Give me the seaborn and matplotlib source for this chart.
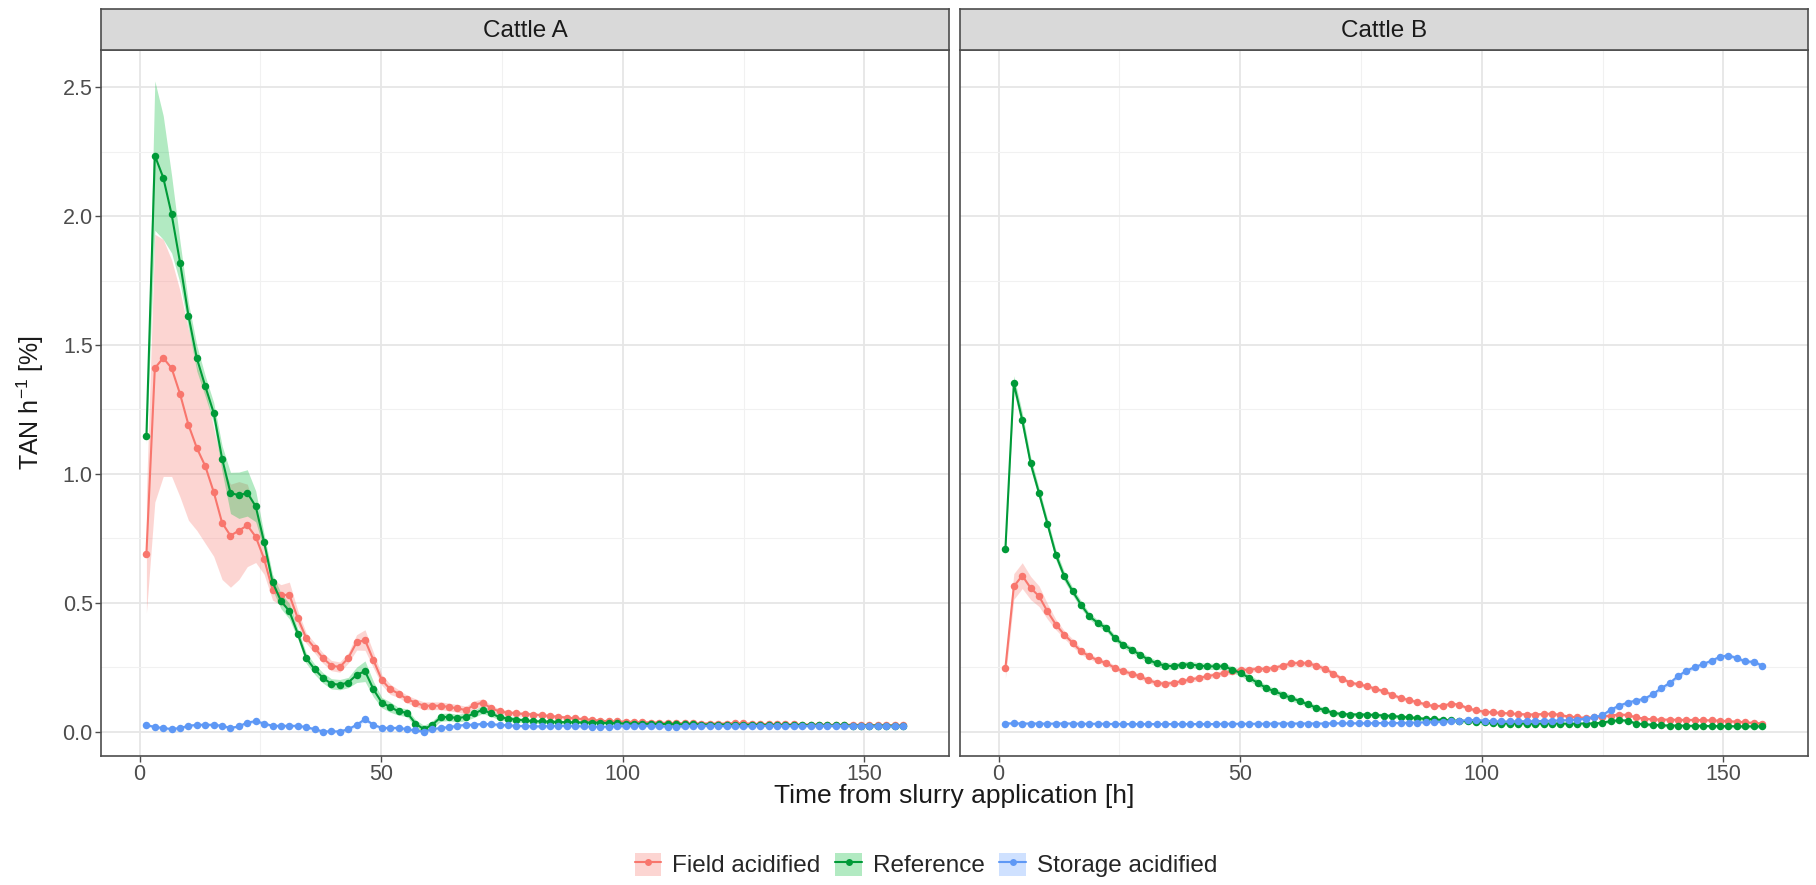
import numpy as np
import pandas as pd
import matplotlib
matplotlib.use("Agg")
import matplotlib.pyplot as plt
import seaborn as sns
from matplotlib.lines import Line2D
from matplotlib.patches import Patch
from matplotlib.ticker import FixedLocator, FixedFormatter

sns.set_theme(style="white")
plt.rcParams["font.family"] = ["Liberation Sans", "DejaVu Sans"]
plt.rcParams["mathtext.fontset"] = "custom"
plt.rcParams["mathtext.rm"] = "Liberation Sans"
plt.rcParams["mathtext.it"] = "Liberation Sans:italic"

# ---------------- data ----------------
panels = ["Cattle A", "Cattle B"]
treatments = ["Field acidified", "Reference", "Storage acidified"]
x_ticks = [0, 50, 100, 150]
x_tick_labels = ["0", "50", "100", "150"]
y_ticks = [0.0, 0.5, 1.0, 1.5, 2.0, 2.5]
y_tick_labels = ["0.0", "0.5", "1.0", "1.5", "2.0", "2.5"]

time_h = [1.4, 3.14, 4.88, 6.62, 8.36, 10.1, 11.84, 13.58, 15.32, 17.06,
          18.8, 20.54, 22.28, 24.02, 25.76, 27.5, 29.24, 30.98, 32.72, 34.46,
          36.2, 37.94, 39.68, 41.42, 43.16, 44.9, 46.64, 48.38, 50.12, 51.86,
          53.6, 55.34, 57.08, 58.82, 60.56, 62.3, 64.04, 65.78, 67.52, 69.26,
          71.0, 72.74, 74.48, 76.22, 77.96, 79.7, 81.44, 83.18, 84.92, 86.66,
          88.4, 90.14, 91.88, 93.62, 95.36, 97.1, 98.84, 100.58, 102.32, 104.06,
          105.8, 107.54, 109.28, 111.02, 112.76, 114.5, 116.24, 117.98, 119.72, 121.46,
          123.2, 124.94, 126.68, 128.42, 130.16, 131.9, 133.64, 135.38, 137.12, 138.86,
          140.6, 142.34, 144.08, 145.82, 147.56, 149.3, 151.04, 152.78, 154.52, 156.26,
          158.0]

# Cattle A
a_field = [0.69, 1.41, 1.45, 1.41, 1.31, 1.19, 1.10, 1.03, 0.93, 0.81,
           0.76, 0.78, 0.80, 0.756, 0.67, 0.55, 0.53, 0.53, 0.44, 0.363,
           0.325, 0.285, 0.256, 0.25, 0.285, 0.346, 0.355, 0.277, 0.2, 0.164,
           0.147, 0.126, 0.112, 0.1, 0.1, 0.1, 0.095, 0.09, 0.083, 0.104,
           0.112, 0.09, 0.078, 0.073, 0.07, 0.068, 0.066, 0.063, 0.06, 0.057,
           0.054, 0.051, 0.048, 0.045, 0.042, 0.04, 0.039, 0.038, 0.037, 0.036,
           0.035, 0.034, 0.033, 0.033, 0.032, 0.032, 0.031, 0.031, 0.030, 0.031,
           0.033, 0.032, 0.030, 0.029, 0.029, 0.028, 0.028, 0.028, 0.027, 0.027,
           0.027, 0.026, 0.026, 0.026, 0.026, 0.025, 0.025, 0.025, 0.025, 0.024,
           0.024]
a_reference = [1.145, 2.235, 2.15, 2.007, 1.82, 1.614, 1.448, 1.34, 1.237, 1.059,
               0.926, 0.917, 0.926, 0.874, 0.735, 0.58, 0.507, 0.467, 0.38, 0.285,
               0.242, 0.208, 0.185, 0.182, 0.19, 0.22, 0.234, 0.164, 0.112, 0.095,
               0.078, 0.073, 0.031, 0.009, 0.026, 0.055, 0.057, 0.052, 0.057, 0.07,
               0.085, 0.07, 0.056, 0.05, 0.046, 0.043, 0.04, 0.039, 0.038, 0.037,
               0.036, 0.036, 0.035, 0.035, 0.034, 0.033, 0.032, 0.031, 0.031, 0.030,
               0.030, 0.029, 0.029, 0.028, 0.028, 0.028, 0.027, 0.027, 0.027, 0.027,
               0.026, 0.026, 0.026, 0.026, 0.025, 0.025, 0.025, 0.025, 0.025, 0.024,
               0.024, 0.024, 0.024, 0.024, 0.023, 0.023, 0.023, 0.023, 0.023, 0.022,
               0.022]
a_storage = [0.026, 0.017, 0.014, 0.009, 0.014, 0.022, 0.026, 0.026, 0.026, 0.022,
             0.014, 0.02, 0.035, 0.04, 0.031, 0.022, 0.022, 0.022, 0.022, 0.017,
             0.009, 0.0, 0.001, 0.0, 0.009, 0.026, 0.048, 0.026, 0.014, 0.014,
             0.014, 0.009, 0.004, 0.0, 0.009, 0.014, 0.017, 0.022, 0.026, 0.026,
             0.03, 0.028, 0.026, 0.024, 0.022, 0.021, 0.02, 0.02, 0.021, 0.022,
             0.022, 0.021, 0.02, 0.019, 0.018, 0.019, 0.02, 0.021, 0.022, 0.022,
             0.021, 0.02, 0.019, 0.019, 0.02, 0.021, 0.022, 0.022, 0.021, 0.021,
             0.02, 0.02, 0.021, 0.022, 0.022, 0.022, 0.021, 0.021, 0.021, 0.022,
             0.022, 0.022, 0.022, 0.021, 0.021, 0.021, 0.021, 0.02, 0.02, 0.02,
             0.02]

# Cattle B
b_field = [0.247, 0.563, 0.605, 0.557, 0.525, 0.466, 0.415, 0.376, 0.344, 0.311,
           0.292, 0.276, 0.266, 0.247, 0.234, 0.225, 0.214, 0.199, 0.189, 0.185,
           0.189, 0.195, 0.202, 0.208, 0.214, 0.221, 0.227, 0.234, 0.238, 0.24,
           0.243, 0.243, 0.247, 0.256, 0.264, 0.266, 0.264, 0.256, 0.243, 0.225,
           0.205, 0.19, 0.183, 0.176, 0.166, 0.156, 0.143, 0.13, 0.122, 0.114,
           0.105, 0.098, 0.1, 0.108, 0.104, 0.09, 0.082, 0.077, 0.074, 0.072,
           0.07, 0.068, 0.066, 0.066, 0.068, 0.069, 0.064, 0.058, 0.055, 0.053,
           0.055, 0.058, 0.062, 0.066, 0.064, 0.055, 0.05, 0.047, 0.046, 0.046,
           0.045, 0.045, 0.045, 0.044, 0.043, 0.042, 0.04, 0.038, 0.036, 0.033,
           0.031]
b_reference = [0.709, 1.351, 1.209, 1.041, 0.925, 0.806, 0.686, 0.602, 0.544, 0.492,
               0.447, 0.421, 0.402, 0.363, 0.337, 0.318, 0.298, 0.279, 0.264, 0.256,
               0.253, 0.26, 0.26, 0.256, 0.253, 0.253, 0.253, 0.24, 0.227, 0.208,
               0.189, 0.169, 0.156, 0.143, 0.13, 0.118, 0.105, 0.092, 0.083, 0.072,
               0.068, 0.066, 0.066, 0.065, 0.064, 0.062, 0.06, 0.057, 0.055, 0.052,
               0.049, 0.047, 0.045, 0.043, 0.041, 0.04, 0.038, 0.036, 0.033, 0.031,
               0.031, 0.031, 0.031, 0.030, 0.031, 0.031, 0.031, 0.030, 0.031, 0.031,
               0.031, 0.035, 0.04, 0.044, 0.042, 0.031, 0.028, 0.026, 0.024, 0.023,
               0.023, 0.022, 0.022, 0.022, 0.021, 0.021, 0.021, 0.020, 0.020, 0.020,
               0.020]
b_storage = [0.031, 0.032, 0.031, 0.031, 0.031, 0.030, 0.031, 0.031, 0.031, 0.030,
             0.030, 0.030, 0.030, 0.029, 0.029, 0.029, 0.029, 0.029, 0.029, 0.029,
             0.029, 0.029, 0.029, 0.029, 0.029, 0.029, 0.030, 0.030, 0.030, 0.030,
             0.030, 0.030, 0.031, 0.031, 0.031, 0.031, 0.031, 0.031, 0.031, 0.032,
             0.032, 0.032, 0.032, 0.032, 0.033, 0.033, 0.033, 0.033, 0.034, 0.035,
             0.036, 0.037, 0.038, 0.04, 0.042, 0.044, 0.045, 0.042, 0.04, 0.039,
             0.039, 0.04, 0.04, 0.04, 0.041, 0.042, 0.043, 0.044, 0.046, 0.05,
             0.055, 0.063, 0.085, 0.1, 0.112, 0.12, 0.127, 0.145, 0.168, 0.188,
             0.215, 0.236, 0.25, 0.262, 0.275, 0.29, 0.295, 0.285, 0.272, 0.27,
             0.256]

# ribbon half-widths (standard error band)
se_a_field = [0.23, 0.52, 0.46, 0.42, 0.40, 0.37, 0.32, 0.30, 0.25, 0.22,
              0.20, 0.19, 0.16, 0.10, 0.06, 0.04, 0.04, 0.05, 0.03, 0.02,
              0.02, 0.02, 0.02, 0.02, 0.02, 0.03, 0.04, 0.03, 0.02, 0.02,
              0.015, 0.015, 0.015, 0.015, 0.015, 0.015, 0.015, 0.015, 0.015, 0.015,
              0.015, 0.012, 0.01, 0.01, 0.01, 0.008, 0.008, 0.008, 0.007, 0.007,
              0.007, 0.006, 0.006, 0.006, 0.006, 0.006, 0.006, 0.006, 0.006, 0.006,
              0.006, 0.006, 0.006, 0.006, 0.006, 0.006, 0.006, 0.006, 0.006, 0.006,
              0.006, 0.006, 0.006, 0.006, 0.006, 0.006, 0.006, 0.006, 0.006, 0.006,
              0.006, 0.006, 0.006, 0.006, 0.006, 0.006, 0.006, 0.006, 0.006, 0.006,
              0.006]
se_a_reference = [0.03, 0.29, 0.24, 0.15, 0.08, 0.05, 0.05, 0.04, 0.04, 0.05,
                  0.08, 0.09, 0.09, 0.06, 0.03, 0.03, 0.03, 0.03, 0.02, 0.02,
                  0.02, 0.02, 0.02, 0.02, 0.02, 0.03, 0.04, 0.03, 0.02, 0.02,
                  0.015, 0.015, 0.015, 0.015, 0.015, 0.015, 0.015, 0.015, 0.015, 0.015,
                  0.015, 0.012, 0.01, 0.01, 0.01, 0.008, 0.008, 0.008, 0.007, 0.007,
                  0.007, 0.006, 0.006, 0.006, 0.006, 0.006, 0.006, 0.006, 0.006, 0.006,
                  0.006, 0.006, 0.006, 0.006, 0.006, 0.006, 0.006, 0.006, 0.006, 0.006,
                  0.006, 0.006, 0.006, 0.006, 0.006, 0.006, 0.006, 0.006, 0.006, 0.006,
                  0.006, 0.006, 0.006, 0.006, 0.006, 0.006, 0.006, 0.006, 0.006, 0.006,
                  0.006]
se_a_storage = [0.006, 0.006, 0.006, 0.006, 0.006, 0.006, 0.006, 0.006, 0.006, 0.006,
                0.006, 0.006, 0.006, 0.006, 0.006, 0.006, 0.006, 0.006, 0.006, 0.006,
                0.006, 0.006, 0.006, 0.006, 0.006, 0.006, 0.008, 0.006, 0.006, 0.006,
                0.006, 0.006, 0.006, 0.006, 0.006, 0.006, 0.006, 0.006, 0.006, 0.006,
                0.006, 0.006, 0.006, 0.006, 0.006, 0.006, 0.006, 0.006, 0.006, 0.006,
                0.006, 0.006, 0.006, 0.006, 0.006, 0.006, 0.006, 0.006, 0.006, 0.006,
                0.006, 0.006, 0.006, 0.006, 0.006, 0.006, 0.006, 0.006, 0.006, 0.006,
                0.006, 0.006, 0.006, 0.006, 0.006, 0.006, 0.006, 0.006, 0.006, 0.006,
                0.006, 0.006, 0.006, 0.006, 0.006, 0.006, 0.006, 0.006, 0.006, 0.006,
                0.006]
se_b_field = [0.04, 0.05, 0.05, 0.045, 0.04, 0.03, 0.02, 0.015, 0.015, 0.012,
              0.01, 0.01, 0.01, 0.01, 0.01, 0.01, 0.01, 0.01, 0.01, 0.01,
              0.01, 0.01, 0.01, 0.01, 0.01, 0.01, 0.01, 0.01, 0.01, 0.01,
              0.01, 0.01, 0.01, 0.01, 0.01, 0.01, 0.01, 0.01, 0.01, 0.01,
              0.008, 0.008, 0.008, 0.008, 0.008, 0.008, 0.008, 0.008, 0.008, 0.008,
              0.007, 0.007, 0.007, 0.007, 0.007, 0.007, 0.007, 0.007, 0.007, 0.007,
              0.006, 0.006, 0.006, 0.006, 0.006, 0.006, 0.006, 0.006, 0.006, 0.006,
              0.006, 0.006, 0.006, 0.006, 0.006, 0.006, 0.006, 0.006, 0.006, 0.006,
              0.006, 0.006, 0.006, 0.006, 0.006, 0.006, 0.006, 0.006, 0.006, 0.006,
              0.006]
se_b_reference = [0.02, 0.03, 0.03, 0.025, 0.02, 0.02, 0.02, 0.018, 0.015, 0.015,
                  0.012, 0.012, 0.012, 0.012, 0.012, 0.012, 0.012, 0.012, 0.012, 0.012,
                  0.012, 0.012, 0.012, 0.012, 0.012, 0.012, 0.012, 0.012, 0.012, 0.012,
                  0.012, 0.012, 0.012, 0.012, 0.012, 0.01, 0.01, 0.01, 0.01, 0.01,
                  0.008, 0.008, 0.008, 0.008, 0.008, 0.008, 0.008, 0.008, 0.008, 0.008,
                  0.007, 0.007, 0.007, 0.007, 0.007, 0.007, 0.007, 0.007, 0.007, 0.007,
                  0.006, 0.006, 0.006, 0.006, 0.006, 0.006, 0.006, 0.006, 0.006, 0.006,
                  0.006, 0.006, 0.006, 0.006, 0.006, 0.006, 0.006, 0.006, 0.006, 0.006,
                  0.006, 0.006, 0.006, 0.006, 0.006, 0.006, 0.006, 0.006, 0.006, 0.006,
                  0.006]
se_b_storage = [0.005, 0.005, 0.005, 0.005, 0.005, 0.005, 0.005, 0.005, 0.005, 0.005,
                0.005, 0.005, 0.005, 0.005, 0.005, 0.005, 0.005, 0.005, 0.005, 0.005,
                0.005, 0.005, 0.005, 0.005, 0.005, 0.005, 0.005, 0.005, 0.005, 0.005,
                0.005, 0.005, 0.005, 0.005, 0.005, 0.005, 0.005, 0.005, 0.005, 0.005,
                0.005, 0.005, 0.005, 0.005, 0.005, 0.005, 0.005, 0.005, 0.005, 0.005,
                0.005, 0.005, 0.005, 0.005, 0.005, 0.005, 0.005, 0.005, 0.005, 0.005,
                0.005, 0.005, 0.005, 0.005, 0.005, 0.005, 0.005, 0.005, 0.005, 0.006,
                0.006, 0.007, 0.008, 0.008, 0.008, 0.008, 0.008, 0.008, 0.008, 0.008,
                0.008, 0.008, 0.008, 0.008, 0.008, 0.008, 0.008, 0.008, 0.008, 0.008,
                0.008]

series = {
    "Cattle A": {"Field acidified": (a_field, se_a_field),
                 "Reference": (a_reference, se_a_reference),
                 "Storage acidified": (a_storage, se_a_storage)},
    "Cattle B": {"Field acidified": (b_field, se_b_field),
                 "Reference": (b_reference, se_b_reference),
                 "Storage acidified": (b_storage, se_b_storage)},
}

rows = []
for panel, d in series.items():
    for trt, (vals, se) in d.items():
        assert len(vals) == len(time_h) == len(se), (panel, trt, len(vals), len(se))
        for t, v, s in zip(time_h, vals, se):
            rows.append({"panel": panel, "treatment": trt, "time": t,
                         "value": v, "lo": v - s, "hi": v + s})
df = pd.DataFrame(rows)

colors = {"Field acidified": "#F8766D", "Reference": "#009A38", "Storage acidified": "#5E98F5"}
ribbon_colors = {"Field acidified": "#F8766D", "Reference": "#00BA38", "Storage acidified": "#619CFF"}

# ---------------- figure ----------------
W, H = 1816, 885
fig = plt.figure(figsize=(W / 100, H / 100), dpi=100)
fig.patch.set_facecolor("white")

panel_x = [(101, 949), (960, 1808)]
top, bottom = 50, 756
strip_top = 9

for k, (panel, (x0, x1)) in enumerate(zip(panels, panel_x)):
    ax = fig.add_axes([x0 / W, 1 - bottom / H, (x1 - x0) / W, (bottom - top) / H])
    ax.set_facecolor("white")
    sub = df[df["panel"] == panel]
    for trt in treatments:
        s = sub[sub["treatment"] == trt]
        ax.fill_between(s["time"], s["lo"], s["hi"], color=ribbon_colors[trt],
                        alpha=0.3, linewidth=0, zorder=2)
    sns.lineplot(data=sub, x="time", y="value", hue="treatment", hue_order=treatments,
                 palette=colors, marker="o", markersize=5.4, markeredgewidth=0,
                 linewidth=1.5, estimator=None, legend=False, ax=ax, zorder=3)
    ax.set_xlim(-8.0, 167.5)
    ax.set_ylim(-0.095, 2.645)
    ax.xaxis.set_major_locator(FixedLocator(x_ticks))
    ax.xaxis.set_major_formatter(FixedFormatter(x_tick_labels))
    ax.xaxis.set_minor_locator(FixedLocator([25, 75, 125]))
    ax.yaxis.set_major_locator(FixedLocator(y_ticks))
    ax.yaxis.set_major_formatter(FixedFormatter(y_tick_labels))
    ax.yaxis.set_minor_locator(FixedLocator([0.25, 0.75, 1.25, 1.75, 2.25]))
    ax.grid(which="major", color="#E6E6E6", linewidth=1.3, zorder=0)
    ax.grid(which="minor", color="#F1F1F1", linewidth=0.8, zorder=0)
    ax.set_axisbelow(True)
    for sp in ax.spines.values():
        sp.set_color("#4D4D4D")
        sp.set_linewidth(1.2)
        sp.set_visible(True)
    ax.set_xlabel("")
    ax.set_ylabel("")
    ax.tick_params(axis="x", which="major", length=4, width=1.0, color="#4D4D4D",
                   labelsize=15.5, labelcolor="#4D4D4D", pad=2, bottom=True)
    ax.tick_params(axis="x", which="minor", length=0)
    ax.tick_params(axis="y", which="minor", length=0)
    if k == 0:
        ax.tick_params(axis="y", which="major", length=4, width=1.0, color="#4D4D4D",
                       labelsize=15.5, labelcolor="#4D4D4D", pad=2, left=True)
    else:
        ax.tick_params(axis="y", which="major", length=0, labelleft=False)

    # facet strip
    sax = fig.add_axes([x0 / W, 1 - top / H, (x1 - x0) / W, (top - strip_top) / H])
    sax.set_facecolor("#D9D9D9")
    sax.set_xticks([])
    sax.set_yticks([])
    for sp in sax.spines.values():
        sp.set_color("#4D4D4D")
        sp.set_linewidth(1.2)
    sax.text(0.5, 0.47, panel, ha="center", va="center", fontsize=17.5,
             color="#1A1A1A", transform=sax.transAxes)

# axis titles
fig.text(954 / W, 1 - 796 / H, "Time from slurry application [h]", ha="center",
         va="center", fontsize=19, color="#1A1A1A")
fig.text(30 / W, 1 - (top + bottom) / 2 / H, r"TAN h$^{-1}$ [%]", ha="center",
         va="center", rotation=90, fontsize=18, color="#1A1A1A")

# legend
handles = []
for trt in treatments:
    patch = Patch(facecolor=ribbon_colors[trt], alpha=0.3, edgecolor="none")
    line = Line2D([], [], color=colors[trt], marker="o", markersize=5.0,
                  markeredgewidth=0, linewidth=1.5)
    handles.append((patch, line))
fig.legend(handles, treatments, loc="center", bbox_to_anchor=(926 / W, 1 - 865 / H),
           ncol=3, frameon=False, fontsize=17.5, handlelength=1.1, handleheight=1.1,
           handletextpad=0.45, columnspacing=0.6, borderaxespad=0)

fig.savefig("out.png", dpi=100, facecolor="white")
